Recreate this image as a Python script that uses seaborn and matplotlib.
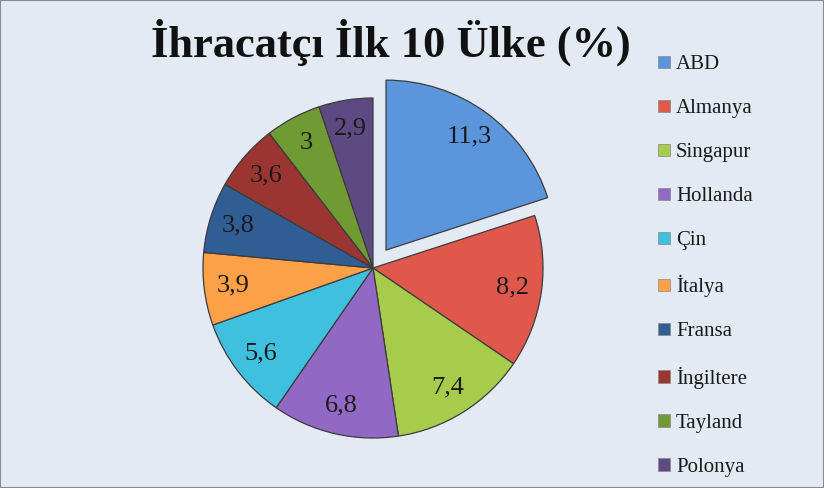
import matplotlib.pyplot as plt
import matplotlib.patches as mpatches
import seaborn as sns

# data
countries = ["ABD", "Almanya", "Singapur", "Hollanda", "Çin",
             "İtalya", "Fransa", "İngiltere", "Tayland", "Polonya"]
shares = [11.3, 8.2, 7.4, 6.8, 5.6, 3.9, 3.8, 3.6, 3.0, 2.9]
value_labels = ["11,3", "8,2", "7,4", "6,8", "5,6", "3,9", "3,8", "3,6", "3", "2,9"]
title = "İhracatçı İlk 10 Ülke (%)"

colors = ["#5b95dc", "#e0584c", "#a7cc4c", "#9169c4", "#3fc0df",
          "#fda148", "#2f5d94", "#9b3532", "#6f9a34", "#5d4a82"]


def main():
    sns.set_style("white")
    plt.rcParams['font.family'] = ['Liberation Serif', 'DejaVu Serif']

    bg = "#e4eaf3"
    fig = plt.figure(figsize=(8.24, 4.88), dpi=100, facecolor=bg)
    W, H = 824, 488
    cx, cy, r = 373, 488 - 268, 170
    ax = fig.add_axes([(cx - 1.5 * r) / W, (cy - 1.5 * r) / H, 3 * r / W, 3 * r / H])
    ax.set_facecolor("none")

    explode = [0.13] + [0] * (len(shares) - 1)
    wedges, texts, autotexts = ax.pie(
        shares, colors=sns.color_palette(colors), explode=explode,
        startangle=90, counterclock=False, autopct="%1.1f", pctdistance=0.83,
        wedgeprops=dict(edgecolor="#3c3c3c", linewidth=0.9),
        textprops=dict(fontsize=19, color="#1a1a1a"))
    for t, lab in zip(autotexts, value_labels):
        t.set_text(lab)
    ax.set_xlim(-1.5, 1.5)
    ax.set_ylim(-1.5, 1.5)
    ax.set_aspect("equal")
    ax.axis("off")

    fig.text(391 / W, 1 - 42 / H, title, ha="center", va="center",
             fontsize=32, fontweight="bold", color="#111111")

    handles = [mpatches.Patch(facecolor=c, edgecolor="#888888", linewidth=0.5) for c in colors]
    leg = fig.legend(handles, countries, loc="upper left",
                     bbox_to_anchor=(650 / W, 1 - 47 / H), frameon=False,
                     fontsize=15, handlelength=0.55, handleheight=0.55,
                     handletextpad=0.3, labelspacing=1.2, borderaxespad=0)
    for t in leg.get_texts():
        t.set_color("#1a1a1a")

    fig.patches.append(mpatches.Rectangle((0, 0), 1, 1, transform=fig.transFigure,
                                          fill=False, edgecolor="#8a8a8a", linewidth=1.5))
    fig.savefig("out.png", dpi=100, facecolor=bg)
    plt.close(fig)


if __name__ == "__main__":
    main()
